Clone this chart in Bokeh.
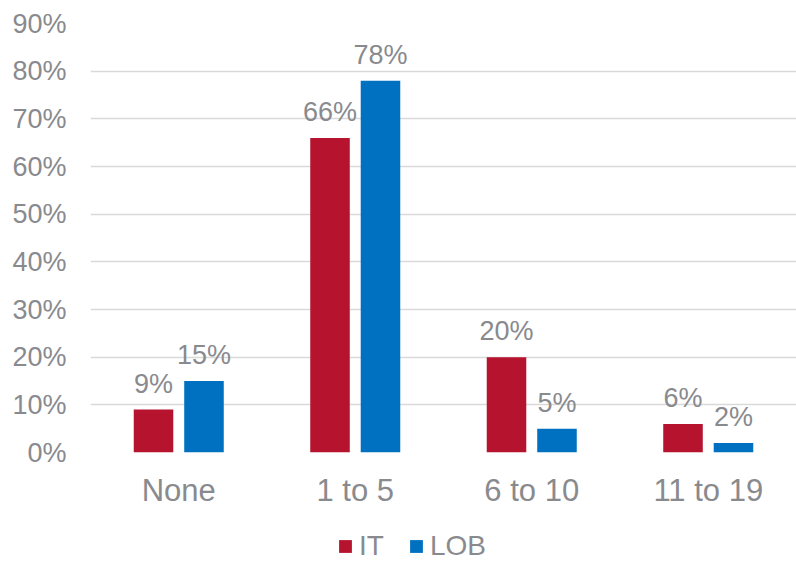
from bokeh.plotting import figure
from bokeh.layouts import column
from bokeh.models import (ColumnDataSource, FactorRange, Range1d, Legend, LegendItem,
                          NumeralTickFormatter, FixedTicker)
from bokeh.transform import dodge
from bokeh.core.properties import value
from bokeh.embed import file_html
from bokeh.resources import INLINE

categories = ["None", "1 to 5", "6 to 10", "11 to 19"]
it_values = [9, 66, 20, 6]
lob_values = [15, 78, 5, 2]
series_names = ["IT", "LOB"]
y_tick_values = [0, 10, 20, 30, 40, 50, 60, 70, 80, 90]

FONT = "Liberation Sans"
TEXT_COLOR = "#898A8E"
IT_COLOR = "#B6132F"
LOB_COLOR = "#0070C0"

src = ColumnDataSource(dict(
    cat=categories,
    it=[v / 100 for v in it_values],
    lob=[v / 100 for v in lob_values],
    it_label=[f"{v}%" for v in it_values],
    lob_label=[f"{v}%" for v in lob_values],
))

main = figure(
    x_range=FactorRange(*categories, range_padding=0),
    y_range=Range1d(0, y_tick_values[-1] / 100),
    width=796, height=512,
    output_backend="svg", toolbar_location=None,
    min_border_left=90, min_border_right=0, min_border_top=23, min_border_bottom=60,
)
main.outline_line_color = None
main.background_fill_color = "white"
main.border_fill_color = "white"

bw = 0.224
off = 0.143
main.vbar(x=dodge("cat", -off, range=main.x_range), top="it", width=bw, source=src,
          fill_color=IT_COLOR, line_color=None)
main.vbar(x=dodge("cat", off, range=main.x_range), top="lob", width=bw, source=src,
          fill_color=LOB_COLOR, line_color=None)

main.text(x=dodge("cat", -off, range=main.x_range), y="it", text="it_label", source=src,
          text_align="center", text_baseline="alphabetic", y_offset=-26,
          text_font=value(FONT), text_font_size="27px", text_color=TEXT_COLOR)
main.text(x=dodge("cat", off, range=main.x_range), y="lob", text="lob_label", source=src,
          text_align="center", text_baseline="alphabetic", y_offset=-26,
          text_font=value(FONT), text_font_size="27px", text_color=TEXT_COLOR)

main.yaxis.ticker = FixedTicker(ticks=[t / 100 for t in y_tick_values])
main.yaxis.formatter = NumeralTickFormatter(format="0%")
for ax in (main.xaxis, main.yaxis):
    ax.axis_line_color = None
    ax.major_tick_line_color = None
    ax.minor_tick_line_color = None
    ax.major_tick_out = 0
    ax.major_tick_in = 0
    ax.major_label_text_font = FONT
    ax.major_label_text_color = TEXT_COLOR
main.yaxis.major_label_text_font_size = "27px"
main.yaxis.major_label_standoff = 24
main.xaxis.major_label_text_font_size = "31px"
main.xaxis.major_label_standoff = 20

main.xgrid.grid_line_color = None
main.ygrid.grid_line_color = "#D9D9D9"
main.ygrid.grid_line_width = 1.5

# legend strip below the chart (its frame is aligned with the main frame)
leg_fig = figure(
    width=796, height=50, x_range=Range1d(0, 1), y_range=Range1d(0, 1),
    x_axis_type=None, y_axis_type=None,
    output_backend="svg", toolbar_location=None,
    min_border_left=0, min_border_right=0, min_border_top=0, min_border_bottom=0,
)
leg_fig.outline_line_color = None
leg_fig.grid.visible = False
leg_fig.border_fill_color = "white"
# legend key renderers (kept outside the visible range)
k_it = leg_fig.vbar(x=[-5], top=[-5], width=0.1, fill_color=IT_COLOR, line_color=None)
k_lob = leg_fig.vbar(x=[-5], top=[-5], width=0.1, fill_color=LOB_COLOR, line_color=None)

legend = Legend(
    items=[LegendItem(label=series_names[0], renderers=[k_it]),
           LegendItem(label=series_names[1], renderers=[k_lob])],
    orientation="horizontal",
    location=(247, 0),
    glyph_width=16, glyph_height=16,
    label_standoff=6, spacing=24, padding=0, margin=0,
    label_text_font=FONT, label_text_font_size="28px", label_text_color=TEXT_COLOR,
    border_line_color=None, background_fill_alpha=0,
)
leg_fig.add_layout(legend, "center")

p = column(main, leg_fig, spacing=0)

open("out.html", "w").write(file_html(p, INLINE))
